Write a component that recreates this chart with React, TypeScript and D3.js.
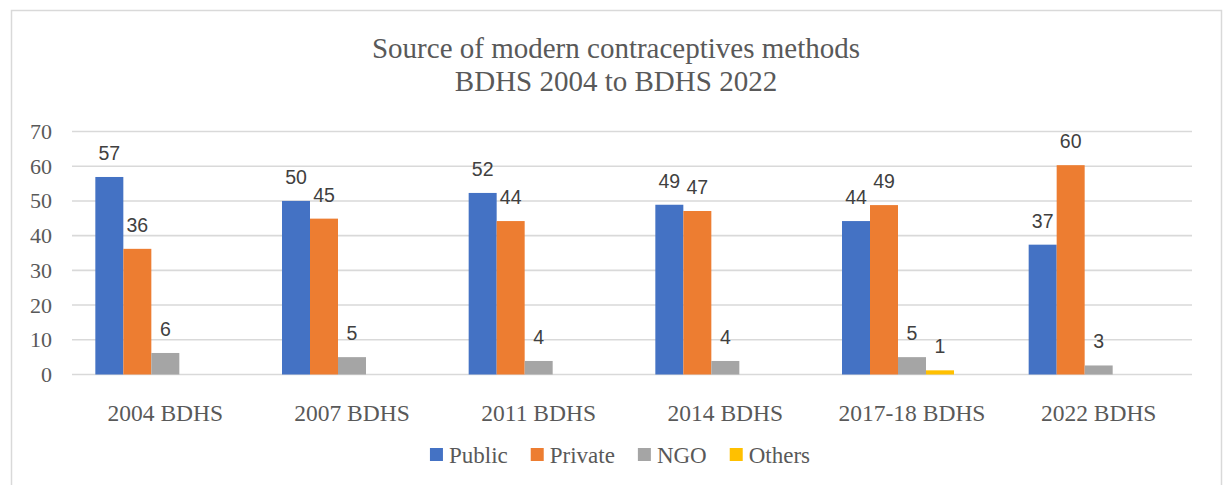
import React, { useEffect, useRef } from "react";
import * as d3 from "d3";

const titleLines = ["Source of modern contraceptives methods", "BDHS 2004 to BDHS 2022"];
const categories = ["2004 BDHS", "2007 BDHS", "2011 BDHS", "2014 BDHS", "2017-18 BDHS", "2022 BDHS"];
const seriesNames = ["Public", "Private", "NGO", "Others"];
const publicValues = [56.9, 50.0, 52.3, 48.9, 44.2, 37.4];
const privateValues = [36.2, 44.9, 44.2, 47.1, 48.8, 60.3];
const ngoValues = [6.2, 5.0, 3.9, 3.9, 5.0, 2.6];
const othersValues: (number | null)[] = [null, null, null, null, 1.2, null];
const seriesColors = ["#4472C4", "#ED7D31", "#A5A5A5", "#FFC000"];
const yTicks = [0, 10, 20, 30, 40, 50, 60, 70];

export default function App() {
  const ref = useRef<SVGSVGElement>(null);

  useEffect(() => {
    const svg = d3.select(ref.current);
    svg.selectAll("*").remove();

    const seriesValues = [publicValues, privateValues, ngoValues, othersValues];
    const textColor = "#595959";
    const serif = "'Liberation Serif', 'Times New Roman', serif";
    const sans = "'Liberation Sans', Arial, sans-serif";

    // outer border
    svg.append("rect")
      .attr("x", 11.5).attr("y", 10.5).attr("width", 1210).attr("height", 490)
      .attr("fill", "#fff").attr("stroke", "#D9D9D9").attr("stroke-width", 1.5);

    // title
    titleLines.forEach((t, i) => {
      svg.append("text")
        .attr("x", 616).attr("y", 58 + i * 33)
        .attr("text-anchor", "middle")
        .attr("font-family", serif).attr("font-size", 29)
        .attr("fill", textColor).text(t);
    });

    const x0 = d3.scaleBand<string>().domain(categories).range([72, 1192])
      .paddingInner(0.25).paddingOuter(0.125);
    // 5 slots per group (last slot empty, as in the original)
    const x1 = d3.scaleBand<string>().domain(seriesNames).range([0, (x0.bandwidth() * 4) / 5]);
    const y = d3.scaleLinear().domain([0, 70]).range([374.5, 131.5]);

    // gridlines
    svg.append("g").selectAll("line").data(yTicks).join("line")
      .attr("x1", 72).attr("x2", 1192)
      .attr("y1", (d) => y(d)).attr("y2", (d) => y(d))
      .attr("stroke", "#D9D9D9").attr("stroke-width", 1.6);

    // y tick labels
    svg.append("g").selectAll("text").data(yTicks).join("text")
      .attr("x", 52).attr("y", (d) => y(d))
      .attr("text-anchor", "end").attr("dominant-baseline", "central")
      .attr("font-family", serif).attr("font-size", 22)
      .attr("fill", textColor).text((d) => String(d));

    // bars + labels
    const fmt = d3.format(".0f");
    seriesNames.forEach((s, si) => {
      const vals = seriesValues[si];
      const g = svg.append("g");
      categories.forEach((c, ci) => {
        const v = vals[ci];
        if (v === null || v === undefined) return;
        const bx = (x0(c) as number) + (x1(s) as number);
        g.append("rect")
          .attr("x", bx).attr("y", y(v))
          .attr("width", x1.bandwidth()).attr("height", y(0) - y(v))
          .attr("fill", seriesColors[si]);
        g.append("text")
          .attr("x", bx + x1.bandwidth() / 2).attr("y", y(v) - 17)
          .attr("text-anchor", "middle")
          .attr("font-family", sans).attr("font-size", 19.5)
          .attr("fill", "#404040").text(fmt(v));
      });
    });

    // category labels
    svg.append("g").selectAll("text").data(categories).join("text")
      .attr("x", (d) => (x0(d) as number) + x0.bandwidth() / 2)
      .attr("y", 421)
      .attr("text-anchor", "middle")
      .attr("font-family", serif).attr("font-size", 23.5)
      .attr("fill", textColor).text((d) => d);

    // legend
    const legend = svg.append("g");
    const sw = 13, swGap = 6, itemGap = 23;
    let cx = 0;
    seriesNames.forEach((s, i) => {
      const item = legend.append("g").attr("transform", `translate(${cx},0)`);
      item.append("rect").attr("x", 0).attr("y", 448).attr("width", sw).attr("height", sw)
        .attr("fill", seriesColors[i]);
      const t = item.append("text").attr("x", sw + swGap).attr("y", 463)
        .attr("font-family", serif).attr("font-size", 23)
        .attr("fill", textColor).text(s);
      const w = (t.node() as SVGTextElement).getComputedTextLength();
      cx += sw + swGap + w + itemGap;
    });
    const total = cx - itemGap;
    legend.attr("transform", `translate(${620 - total / 2},0)`);
  }, []);

  return (
    <svg
      ref={ref}
      width={1226}
      height={485}
      style={{ position: "absolute", left: 0, top: 0, display: "block" }}
    />
  );
}
